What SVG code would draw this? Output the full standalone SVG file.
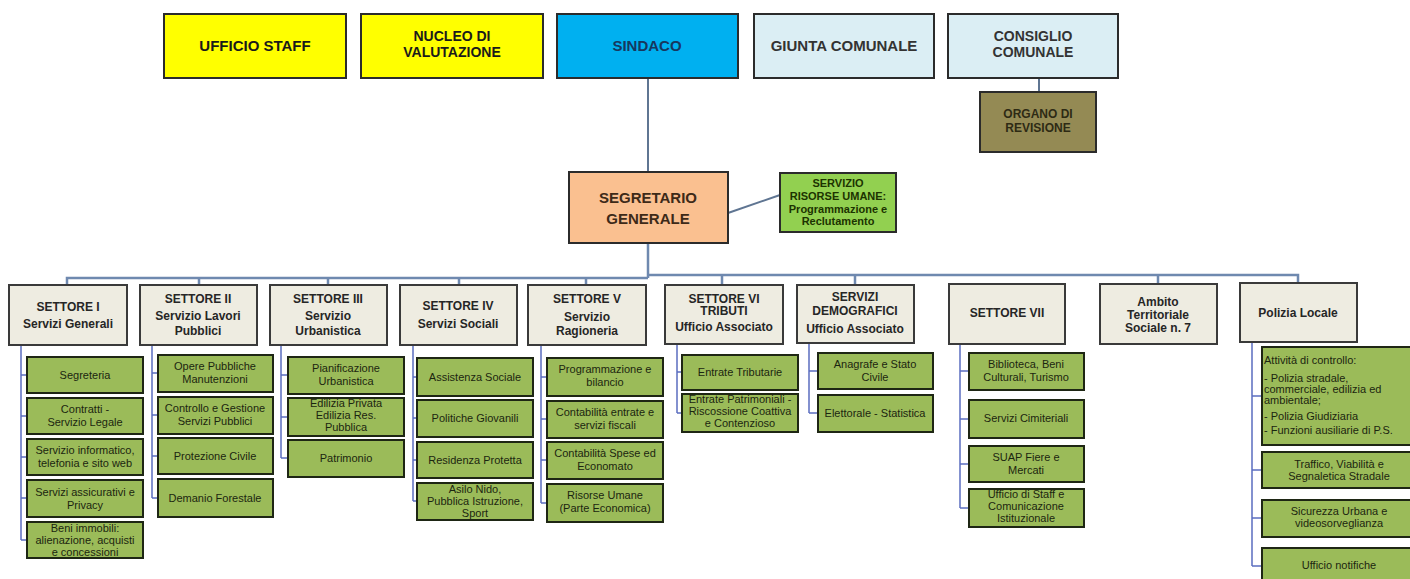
<svg xmlns="http://www.w3.org/2000/svg" width="1410" height="579" viewBox="0 0 1410 579">
<style>
text{font-family:"Liberation Sans",Arial,sans-serif;text-anchor:middle}
.box{stroke:#2b2b2b;stroke-width:2}
.y{fill:#FFFF00}
.sind{fill:#00B0F0}
.lb{fill:#DBEEF4}
.org{fill:#948A54}
.seg{fill:#FAC090}
.ris{fill:#92D050}
.set{fill:#EEECE1;stroke:#3a3a3a;stroke-width:2}
.ch{fill:#9BBB59;stroke:#1e2614;stroke-width:2}
.top{font-size:15px;font-weight:bold;fill:#1a1a1a}
.top2{font-size:14px;font-weight:bold;fill:#1a1a1a}
.h{font-size:12px;font-weight:bold;fill:#262626}
.c{font-size:11px;fill:#1b2610}
.ln{stroke:#5F7592;stroke-width:2;fill:none}
.bus{stroke:#6F89AF;stroke-width:2.5;fill:none}
.cl{stroke:#5B6EC0;stroke-width:1.5;fill:none}
</style>

<g id="connectors">
<path class="ln" d="M648 78V172"/>
<path class="ln" d="M1039 78V92"/>
<path class="ln" d="M728 213L780 195"/>
<path class="bus" d="M648 243V278"/>
<path class="bus" d="M67 285V278H648"/>
<path class="bus" d="M199 278V285M328 278V285M459 278V285M586 278V285"/>
<path class="bus" d="M648 275H1298V283"/>
<path class="bus" d="M722 275V285M855 275V285M1158 275V284"/>
<path class="cl" d="M21 345V540M21 375H27M21 416H27M21 457H27M21 498H27M21 540H27"/>
<path class="cl" d="M152 345V498M152 373H158M152 415H158M152 456H158M152 498H158"/>
<path class="cl" d="M281 345V458M281 375H288M281 417H288M281 458H288"/>
<path class="cl" d="M413 345V501M413 377H417M413 418H417M413 460H417M413 501H417"/>
<path class="cl" d="M541 345V503M541 377H547M541 419H547M541 460H547M541 503H547"/>
<path class="cl" d="M677 344V413M677 372H682M677 413H682"/>
<path class="cl" d="M809 343V413M809 371H818M809 413H818"/>
<path class="cl" d="M960 344V508M960 371H969M960 419H969M960 464H969M960 508H969"/>
<path class="cl" d="M1252 342V566M1252 396H1262M1252 470H1262M1252 518H1262M1252 566H1262"/>
</g>

<g id="ufficio-staff"><rect class="box y" x="164" y="14" width="182" height="64"/><text class="top" x="255" y="51">UFFICIO STAFF</text></g>
<g id="nucleo"><rect class="box y" x="361" y="14" width="182" height="64"/><text class="top2" x="452" y="41">NUCLEO DI</text><text class="top2" x="452" y="57">VALUTAZIONE</text></g>
<g id="sindaco"><rect class="box sind" x="557" y="14" width="181" height="64"/><text class="top" x="647" y="51" style="fill:#17375E">SINDACO</text></g>
<g id="giunta"><rect class="box lb" x="754" y="14" width="180" height="64"/><text class="top" x="844" y="51" style="fill:#333">GIUNTA COMUNALE</text></g>
<g id="consiglio"><rect class="box lb" x="948" y="14" width="170" height="64"/><text class="top2" x="1033" y="41" style="fill:#333">CONSIGLIO</text><text class="top2" x="1033" y="57" style="fill:#333">COMUNALE</text></g>
<g id="organo"><rect class="box org" x="980" y="92" width="116" height="60"/><text class="h" x="1038" y="118" style="fill:#2e2a14">ORGANO DI</text><text class="h" x="1038" y="132" style="fill:#2e2a14">REVISIONE</text></g>
<g id="segretario"><rect class="box seg" x="569" y="172" width="159" height="71"/><text class="top" x="648" y="203" style="fill:#3d2a18">SEGRETARIO</text><text class="top" x="648" y="224" style="fill:#3d2a18">GENERALE</text></g>
<g id="risorse-umane"><rect class="box ris" x="780" y="173" width="116" height="59"/>
<text x="838" y="187" style="font-size:11px;font-weight:bold;fill:#1c3300">SERVIZIO</text>
<text x="838" y="200" style="font-size:11px;font-weight:bold;fill:#1c3300">RISORSE UMANE:</text>
<text x="838" y="213" style="font-size:11px;font-weight:bold;fill:#1c3300">Programmazione e</text>
<text x="838" y="225" style="font-size:11px;font-weight:bold;fill:#1c3300">Reclutamento</text></g>

<g id="settore-1"><rect class="set" x="9" y="285" width="118" height="60"/><text class="h" x="68" y="311">SETTORE I</text><text class="h" x="68" y="328">Servizi Generali</text></g>
<g id="settore-2"><rect class="set" x="140" y="285" width="117" height="60"/><text class="h" x="198" y="303">SETTORE II</text><text class="h" x="198" y="320">Servizio Lavori</text><text class="h" x="198" y="335">Pubblici</text></g>
<g id="settore-3"><rect class="set" x="270" y="285" width="117" height="60"/><text class="h" x="328" y="303">SETTORE III</text><text class="h" x="328" y="320">Servizio</text><text class="h" x="328" y="335">Urbanistica</text></g>
<g id="settore-4"><rect class="set" x="400" y="285" width="117" height="60"/><text class="h" x="458" y="310">SETTORE IV</text><text class="h" x="458" y="328">Servizi Sociali</text></g>
<g id="settore-5"><rect class="set" x="528" y="285" width="118" height="60"/><text class="h" x="587" y="303">SETTORE V</text><text class="h" x="587" y="321">Servizio</text><text class="h" x="587" y="335">Ragioneria</text></g>
<g id="settore-6"><rect class="set" x="665" y="285" width="118" height="59"/><text class="h" x="724" y="303">SETTORE VI</text><text class="h" x="724" y="315">TRIBUTI</text><text class="h" x="724" y="331">Ufficio Associato</text></g>
<g id="servizi-demografici"><rect class="set" x="797" y="285" width="117" height="58"/><text class="h" x="855" y="301">SERVIZI</text><text class="h" x="855" y="315">DEMOGRAFICI</text><text class="h" x="855" y="333">Ufficio Associato</text></g>
<g id="settore-7"><rect class="set" x="949" y="284" width="116" height="60"/><text class="h" x="1007" y="317">SETTORE VII</text></g>
<g id="ambito"><rect class="set" x="1100" y="284" width="117" height="60"/><text class="h" x="1158" y="306">Ambito</text><text class="h" x="1158" y="319">Territoriale</text><text class="h" x="1158" y="332">Sociale n. 7</text></g>
<g id="polizia-locale"><rect class="set" x="1240" y="283" width="117" height="59"/><text class="h" x="1298" y="317">Polizia Locale</text></g>

<g id="s1-children">
<rect class="ch" x="27" y="357" width="116" height="36"/><text class="c" x="85" y="379">Segreteria</text>
<rect class="ch" x="27" y="398" width="116" height="36"/><text class="c" x="85" y="413">Contratti -</text><text class="c" x="85" y="426">Servizio Legale</text>
<rect class="ch" x="27" y="439" width="116" height="36"/><text class="c" x="85" y="454">Servizio informatico,</text><text class="c" x="85" y="467">telefonia e sito web</text>
<rect class="ch" x="27" y="480" width="116" height="37"/><text class="c" x="85" y="496">Servizi assicurativi e</text><text class="c" x="85" y="509">Privacy</text>
<rect class="ch" x="27" y="522" width="116" height="36"/><text class="c" x="85" y="532">Beni immobili:</text><text class="c" x="85" y="544">alienazione, acquisti</text><text class="c" x="85" y="556">e concessioni</text>
</g>
<g id="s2-children">
<rect class="ch" x="158" y="355" width="115" height="37"/><text class="c" x="215" y="370">Opere Pubbliche</text><text class="c" x="215" y="383">Manutenzioni</text>
<rect class="ch" x="158" y="397" width="115" height="37"/><text class="c" x="215" y="412">Controllo e Gestione</text><text class="c" x="215" y="425">Servizi Pubblici</text>
<rect class="ch" x="158" y="438" width="115" height="36"/><text class="c" x="215" y="460">Protezione Civile</text>
<rect class="ch" x="158" y="479" width="115" height="38"/><text class="c" x="215" y="502">Demanio Forestale</text>
</g>
<g id="s3-children">
<rect class="ch" x="288" y="357" width="116" height="37"/><text class="c" x="346" y="372">Pianificazione</text><text class="c" x="346" y="385">Urbanistica</text>
<rect class="ch" x="288" y="398" width="116" height="38"/><text class="c" x="346" y="407">Edilizia Privata</text><text class="c" x="346" y="419">Edilizia Res.</text><text class="c" x="346" y="431">Pubblica</text>
<rect class="ch" x="288" y="440" width="116" height="37"/><text class="c" x="346" y="462">Patrimonio</text>
</g>
<g id="s4-children">
<rect class="ch" x="417" y="358" width="116" height="38"/><text class="c" x="475" y="381">Assistenza Sociale</text>
<rect class="ch" x="417" y="400" width="116" height="37"/><text class="c" x="475" y="422">Politiche Giovanili</text>
<rect class="ch" x="417" y="442" width="116" height="36"/><text class="c" x="475" y="464">Residenza Protetta</text>
<rect class="ch" x="417" y="483" width="116" height="37"/><text class="c" x="475" y="493">Asilo Nido,</text><text class="c" x="475" y="505">Pubblica Istruzione,</text><text class="c" x="475" y="517">Sport</text>
</g>
<g id="s5-children">
<rect class="ch" x="547" y="358" width="116" height="38"/><text class="c" x="605" y="373">Programmazione e</text><text class="c" x="605" y="386">bilancio</text>
<rect class="ch" x="547" y="401" width="116" height="37"/><text class="c" x="605" y="416">Contabilità entrate e</text><text class="c" x="605" y="429">servizi fiscali</text>
<rect class="ch" x="547" y="442" width="116" height="37"/><text class="c" x="605" y="457">Contabilità Spese ed</text><text class="c" x="605" y="470">Economato</text>
<rect class="ch" x="547" y="484" width="116" height="38"/><text class="c" x="605" y="499">Risorse Umane</text><text class="c" x="605" y="512">(Parte Economica)</text>
</g>
<g id="s6-children">
<rect class="ch" x="682" y="355" width="116" height="35"/><text class="c" x="740" y="376">Entrate Tributarie</text>
<rect class="ch" x="682" y="394" width="116" height="38"/><text class="c" x="740" y="403">Entrate Patrimoniali -</text><text class="c" x="740" y="415">Riscossione Coattiva</text><text class="c" x="740" y="427">e Contenzioso</text>
</g>
<g id="demo-children">
<rect class="ch" x="818" y="353" width="115" height="36"/><text class="c" x="875" y="368">Anagrafe e Stato</text><text class="c" x="875" y="381">Civile</text>
<rect class="ch" x="818" y="395" width="115" height="37"/><text class="c" x="875" y="417">Elettorale - Statistica</text>
</g>
<g id="s7-children">
<rect class="ch" x="969" y="353" width="115" height="37"/><text class="c" x="1026" y="368">Biblioteca, Beni</text><text class="c" x="1026" y="381">Culturali, Turismo</text>
<rect class="ch" x="969" y="400" width="115" height="38"/><text class="c" x="1026" y="422">Servizi Cimiteriali</text>
<rect class="ch" x="969" y="446" width="115" height="36"/><text class="c" x="1026" y="461">SUAP Fiere e</text><text class="c" x="1026" y="474">Mercati</text>
<rect class="ch" x="969" y="489" width="115" height="38"/><text class="c" x="1026" y="498">Ufficio di Staff e</text><text class="c" x="1026" y="510">Comunicazione</text><text class="c" x="1026" y="522">Istituzionale</text>
</g>
<g id="polizia-children">
<rect class="ch" x="1262" y="347" width="154" height="98"/>
<text class="c" x="1264" y="364" style="text-anchor:start">Attività di controllo:</text>
<text class="c" x="1264" y="382" style="text-anchor:start">- Polizia stradale,</text>
<text class="c" x="1264" y="393" style="text-anchor:start">commerciale, edilizia ed</text>
<text class="c" x="1264" y="404" style="text-anchor:start">ambientale;</text>
<text class="c" x="1264" y="420" style="text-anchor:start">- Polizia Giudiziaria</text>
<text class="c" x="1264" y="434" style="text-anchor:start">- Funzioni ausiliarie di P.S.</text>
<rect class="ch" x="1262" y="452" width="154" height="36"/><text class="c" x="1339" y="468">Traffico, Viabilità e</text><text class="c" x="1339" y="480">Segnaletica Stradale</text>
<rect class="ch" x="1262" y="500" width="154" height="37"/><text class="c" x="1339" y="515">Sicurezza Urbana e</text><text class="c" x="1339" y="527">videosorveglianza</text>
<rect class="ch" x="1262" y="548" width="154" height="40"/><text class="c" x="1339" y="569">Ufficio notifiche</text>
</g>
</svg>
